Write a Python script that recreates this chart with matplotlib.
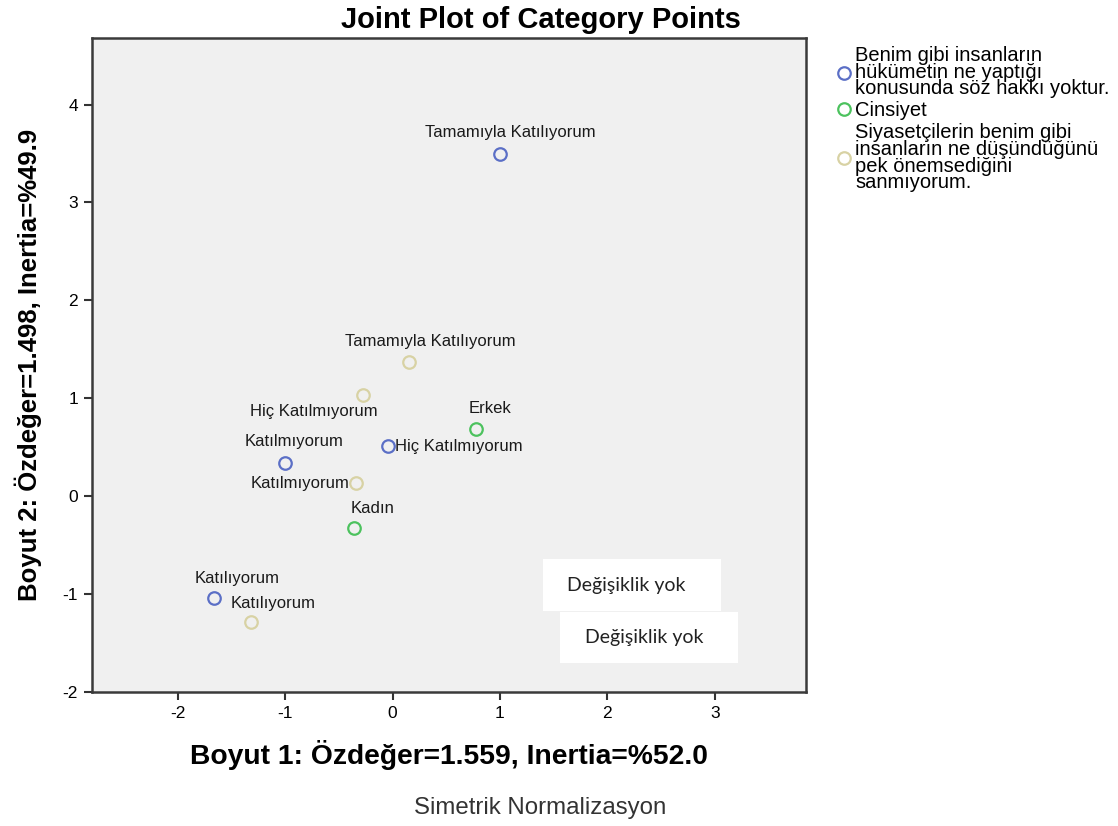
import matplotlib
matplotlib.use("Agg")
import matplotlib.pyplot as plt
from matplotlib.patches import Rectangle

plt.rcParams['font.family'] = ['Liberation Sans', 'DejaVu Sans']
plt.rcParams['axes.unicode_minus'] = False

# Data
groups = [
    "Benim gibi insanların\nhükümetin ne yaptığı\nkonusunda söz hakkı yoktur.",
    "Cinsiyet",
    "Siyasetçilerin benim gibi\ninsanların ne düşündüğünü\npek önemsediğini\nsanmıyorum.",
]
colors = ['#5b6fc6', '#4cc25e', '#d8d2a4']

blue_labels = ["Tamamıyla Katılıyorum", "Hiç Katılmıyorum", "Katılmıyorum", "Katılıyorum"]
blue_x = [1.00, -0.04, -1.00, -1.66]
blue_y = [3.50, 0.51, 0.34, -1.04]

green_labels = ["Erkek", "Kadın"]
green_x = [0.78, -0.36]
green_y = [0.69, -0.32]

beige_labels = ["Tamamıyla Katılıyorum", "Hiç Katılmıyorum", "Katılmıyorum", "Katılıyorum"]
beige_x = [0.15, -0.28, -0.34, -1.32]
beige_y = [1.37, 1.03, 0.13, -1.28]

xticks = [-2, -1, 0, 1, 2, 3]
yticks = [-2, -1, 0, 1, 2, 3, 4]

# label offsets in pixels (dx, dy, ha)
blue_off = [(10, 21, 'center'), (7, 0, 'left'), (9, 21, 'center'), (23, 20, 'center')]
green_off = [(14, 20, 'center'), (19, 19, 'center')]
beige_off = [(22, 21, 'center'), (-49, -16, 'center'), (-7, 0, 'right'), (22, 18, 'center')]

W, H = 1118, 826
fig = plt.figure(figsize=(W / 100, H / 100), dpi=100)
ax = fig.add_axes([92 / W, 1 - 692 / H, (806 - 92) / W, (692 - 38) / H])
ax.set_facecolor('#f0f0f0')
ax.set_xlim(-2.80, 3.85)
ax.set_ylim(-2.0, 4.68)
ax.set_xticks(xticks)
ax.set_yticks(yticks)
ax.tick_params(direction='out', length=6, width=1.5, color='#333333', labelsize=12.5, pad=4)
for s in ax.spines.values():
    s.set_color('#3a3a3a')
    s.set_linewidth(1.8)

series = [
    (blue_x, blue_y, blue_labels, blue_off, colors[0], groups[0]),
    (green_x, green_y, green_labels, green_off, colors[1], groups[1]),
    (beige_x, beige_y, beige_labels, beige_off, colors[2], groups[2]),
]
for xs, ys, labs, offs, c, g in series:
    ax.plot(xs, ys, linestyle='none', marker='o', markersize=9, markerfacecolor='none',
            markeredgecolor=c, markeredgewidth=1.6, label=g)
    for x, y, lab, (dx, dy, ha) in zip(xs, ys, labs, offs):
        ax.annotate(lab, (x, y), xytext=(dx * 0.72, dy * 0.72), textcoords='offset points',
                    ha=ha, va='center', fontsize=12, color='#1a1a1a')

ax.set_title("Joint Plot of Category Points", fontsize=21, fontweight='bold', pad=7,
             x=(541 - 92) / (806 - 92))
ax.set_xlabel("Boyut 1: Özdeğer=1.559, Inertia=%52.0", fontsize=20.3, fontweight='bold', labelpad=14)
ax.set_ylabel("Boyut 2: Özdeğer=1.498, Inertia=%49.9", fontsize=18.5, fontweight='bold', labelpad=15)

leg = ax.legend(loc='upper left', bbox_to_anchor=(824 / W, 1 - 36 / H), bbox_transform=fig.transFigure,
                frameon=False, fontsize=14.5, handletextpad=0.05, labelspacing=0.15,
                borderpad=0, handlelength=1.0, markerscale=1.0)
for t in leg.get_texts():
    t.set_linespacing(0.84)

fig.text(540 / W, 1 - 808 / H, "Simetrik Normalizasyon", ha='center', va='center',
         fontsize=17.3, color='#333333')

# overlay white boxes
for (x0, y0, x1, y1, tx) in [(543, 559, 721, 611, 567), (560, 612, 738, 663, 585)]:
    fig.patches.append(Rectangle((x0 / W, 1 - y1 / H), (x1 - x0) / W, (y1 - y0) / H,
                                 transform=fig.transFigure, facecolor='white', edgecolor='none', zorder=5))
    fig.text(tx / W, 1 - ((y0 + y1) / 2) / H, "Değişiklik yok", ha='left', va='center',
             fontsize=14, family=['Lato', 'DejaVu Sans'], color='#222222', zorder=6)

fig.savefig('out.png', dpi=100, facecolor='white')
